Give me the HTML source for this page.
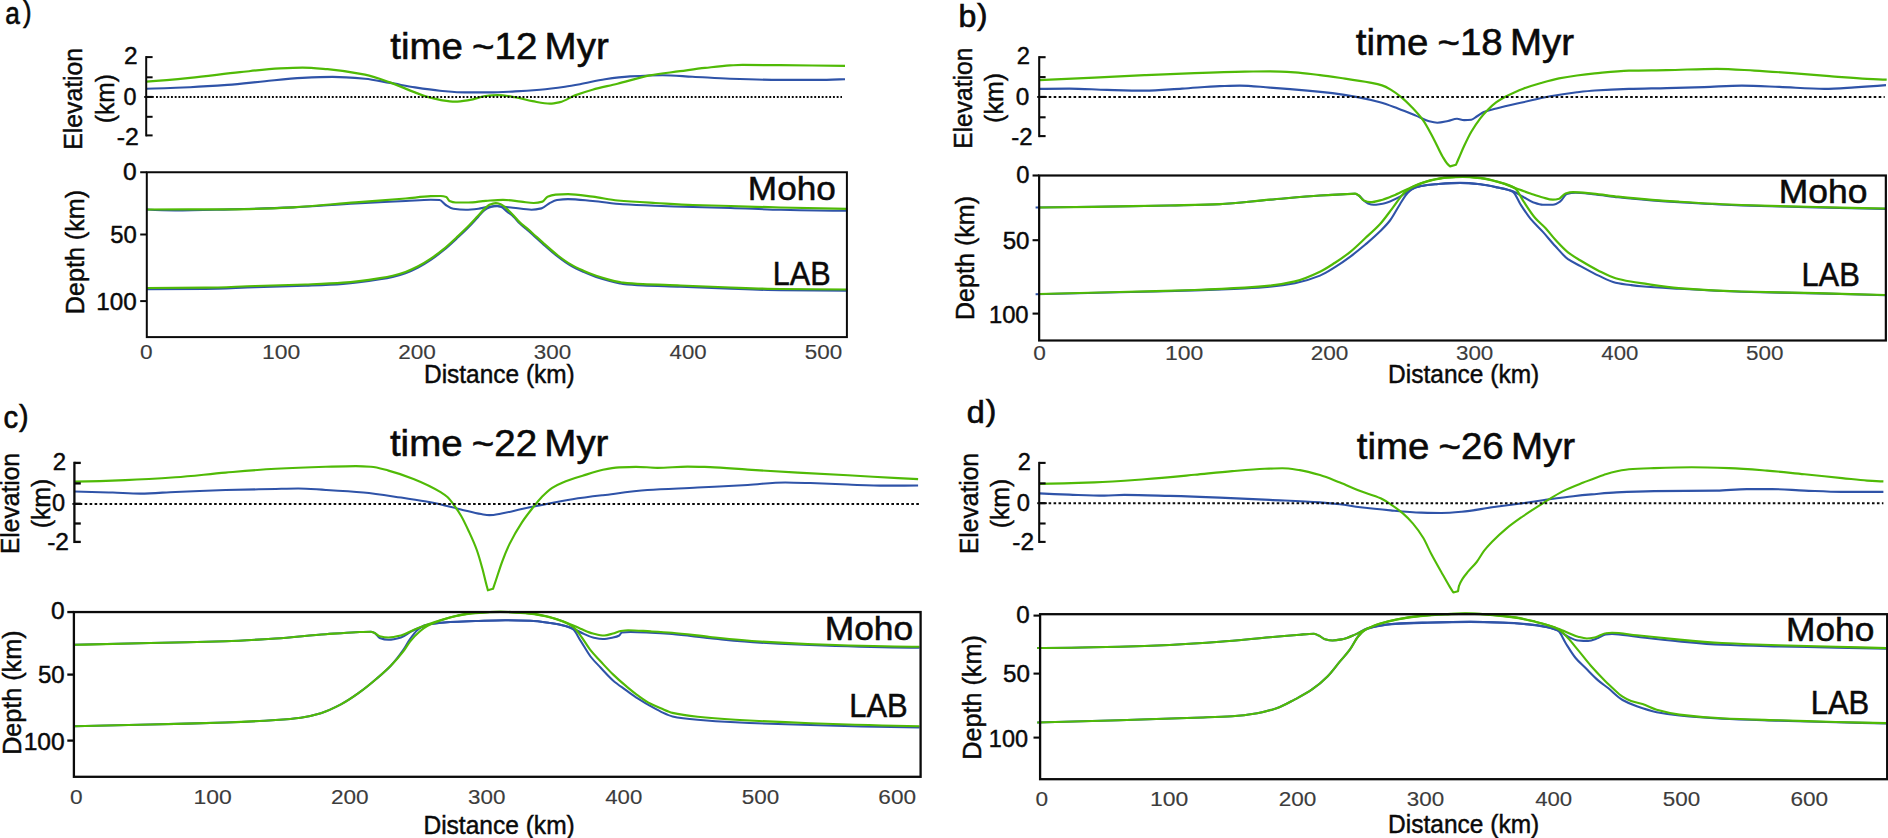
<!DOCTYPE html>
<html><head><meta charset="utf-8"><title>Rift evolution profiles</title>
<style>
html,body{margin:0;padding:0;background:#fff;}
svg{display:block;font-family:"Liberation Sans",sans-serif;}
path{fill:none;stroke-linejoin:round;}
</style></head><body>
<svg width="1888" height="838" viewBox="0 0 1888 838">
<rect width="1888" height="838" fill="#fff"/>
<g id="panel-a">
<path d="M146.3 88.7C160.9 88.4 175.4 87.8 190.0 87.2C202.5 86.6 215.0 85.8 227.5 84.9C240.0 84.0 252.5 82.4 265.0 81.2C277.5 80.0 290.0 78.5 302.5 77.9C312.5 77.4 322.5 76.9 332.5 76.9C343.3 76.9 354.2 77.8 365.0 78.7C373.3 79.4 381.7 81.5 390.0 82.9C398.3 84.3 406.7 86.1 415.0 87.4C423.3 88.7 431.7 90.0 440.0 90.7C448.3 91.4 456.7 92.4 465.0 92.4C473.3 92.4 481.7 92.4 490.0 92.4C498.3 92.4 506.7 91.8 515.0 91.4C523.3 91.0 531.7 90.4 540.0 89.7C548.3 89.0 556.7 87.9 565.0 86.7C570.0 86.0 575.0 85.1 580.0 84.2C588.3 82.7 596.7 80.4 605.0 79.2C613.3 78.0 621.7 76.9 630.0 76.4C640.8 75.8 651.7 75.2 662.5 75.2C672.5 75.2 682.5 76.2 692.5 76.7C705.0 77.3 717.5 78.3 730.0 78.7C746.7 79.3 763.3 79.9 780.0 79.9C792.5 79.9 805.0 79.9 817.5 79.9C826.7 79.9 835.8 79.5 845.0 79.2" stroke="#2f53a8" stroke-width="2.10"/>
<path d="M146.8 209.5C156.2 210.0 165.6 210.4 175.0 210.4C193.3 210.4 211.7 209.8 230.0 209.4C251.0 208.9 272.0 208.3 293.0 207.4C313.9 206.5 334.7 204.5 355.6 203.4C372.3 202.5 389.0 201.8 405.7 201.0C414.1 200.6 422.4 199.7 430.8 199.7C433.7 199.7 436.6 199.8 439.5 200.0C441.6 200.1 443.7 203.7 445.8 205.0C448.3 206.6 450.8 208.4 453.3 208.8C457.5 209.4 461.6 209.8 465.8 209.8C470.0 209.8 474.2 209.3 478.4 208.8C481.7 208.4 485.1 207.1 488.4 206.8C491.3 206.5 494.1 206.3 497.0 206.3C502.3 206.3 507.7 207.2 513.0 207.7C519.2 208.3 525.3 209.7 531.5 209.7C534.8 209.7 538.2 209.1 541.5 208.4C544.2 207.8 546.8 204.6 549.5 203.2C552.0 201.9 554.5 200.4 557.0 200.0C560.7 199.5 564.3 199.1 568.0 199.1C576.3 199.1 584.5 200.3 592.8 201.0C602.8 201.9 612.9 203.6 622.9 204.3C633.7 205.0 644.6 205.4 655.4 205.8C667.9 206.3 680.5 206.6 693.0 207.0C705.5 207.4 718.1 207.6 730.6 208.0C747.3 208.5 764.1 209.4 780.8 209.8C803.0 210.3 825.2 210.7 847.4 210.8" stroke="#2f53a8" stroke-width="2.10"/>
<path d="M146.8 289.2C166.2 289.2 185.6 289.1 205.0 288.9C221.8 288.7 238.5 287.7 255.3 287.2C272.0 286.7 288.7 286.3 305.4 285.7C317.9 285.2 330.5 284.8 343.0 283.9C355.3 283.0 367.7 281.2 380.0 279.3C384.2 278.7 388.5 278.0 392.7 277.0C396.9 276.0 401.2 274.7 405.4 273.2C409.6 271.7 413.9 269.7 418.1 267.5C422.3 265.3 426.6 262.6 430.8 259.8C435.1 257.0 439.3 253.8 443.6 250.3C447.8 246.9 452.1 242.8 456.3 238.9C460.5 235.0 464.8 231.1 469.0 226.8C472.0 223.8 474.9 220.5 477.9 217.3C480.0 215.0 482.1 211.9 484.2 210.3C485.9 209.0 487.6 208.0 489.3 207.4C491.4 206.6 493.6 205.8 495.7 205.8C497.4 205.8 499.1 206.3 500.8 206.8C502.9 207.4 505.0 210.1 507.1 211.7C509.2 213.3 511.4 214.7 513.5 216.6C515.6 218.5 517.7 221.6 519.8 223.6C521.9 225.6 524.1 227.1 526.2 228.9C528.3 230.7 530.4 232.5 532.5 234.4C536.7 238.2 541.0 242.2 545.2 245.9C549.4 249.6 553.7 253.5 557.9 256.7C562.2 260.0 566.4 263.1 570.7 265.6C574.9 268.1 579.2 270.0 583.4 271.9C587.6 273.8 591.9 275.5 596.1 277.0C600.3 278.5 604.6 279.7 608.8 280.8C612.5 281.8 616.3 282.7 620.0 283.4C621.0 283.6 621.9 283.8 622.9 283.9C629.6 284.7 636.2 285.1 642.9 285.4C655.4 286.0 668.0 286.2 680.5 286.7C697.2 287.3 713.9 288.1 730.6 288.7C747.3 289.3 764.1 290.0 780.8 290.2C803.0 290.5 825.2 290.7 847.4 290.7" stroke="#2f53a8" stroke-width="2.10"/>
<path d="M146.3 81.7C160.9 80.6 175.4 79.3 190.0 77.9C206.7 76.3 223.3 73.9 240.0 72.2C253.3 70.8 266.7 69.1 280.0 68.4C287.5 68.0 295.0 67.6 302.5 67.6C310.8 67.6 319.2 68.5 327.5 69.2C340.0 70.3 352.5 72.2 365.0 74.7C373.3 76.4 381.7 79.5 390.0 82.4C398.3 85.3 406.7 89.3 415.0 92.4C419.2 94.0 423.3 95.7 427.5 96.9C431.7 98.1 435.8 99.2 440.0 99.9C445.0 100.7 450.0 101.7 455.0 101.7C460.0 101.7 465.0 100.7 470.0 99.9C475.0 99.1 480.0 96.8 485.0 96.2C489.2 95.7 493.3 95.2 497.5 95.2C503.3 95.2 509.2 96.3 515.0 97.2C520.8 98.1 526.7 100.2 532.5 101.2C538.3 102.2 544.2 103.7 550.0 103.7C553.3 103.7 556.7 102.9 560.0 102.2C565.0 101.1 570.0 97.3 575.0 95.4C580.8 93.2 586.7 91.3 592.5 89.7C600.8 87.4 609.2 85.8 617.5 83.7C628.3 81.0 639.2 77.4 650.0 75.4C660.0 73.6 670.0 72.6 680.0 71.2C688.3 70.1 696.7 68.8 705.0 67.9C713.3 67.0 721.7 65.9 730.0 65.4C734.2 65.2 738.3 64.9 742.5 64.9C755.0 64.9 767.5 65.1 780.0 65.2C801.7 65.4 823.3 65.6 845.0 65.9" stroke="#50ba06" stroke-width="2.20"/>
<path d="M146.8 209.5C174.6 209.5 202.5 209.4 230.3 209.3C251.2 209.2 272.0 208.3 292.9 207.3C313.8 206.3 334.7 203.9 355.6 202.3C372.3 201.0 389.0 199.9 405.7 198.5C414.1 197.8 422.4 196.5 430.8 196.2C434.1 196.1 437.5 196.0 440.8 196.0C442.6 196.0 444.5 196.4 446.3 197.0C447.4 197.4 448.4 200.5 449.5 201.0C451.6 201.9 453.7 202.5 455.8 202.5C460.0 202.5 464.1 202.5 468.3 202.5C474.2 202.5 480.0 201.2 485.9 200.8C491.6 200.4 497.3 199.8 503.0 199.8C509.0 199.8 515.0 201.0 521.0 201.6C525.2 202.0 529.5 203.0 533.7 203.0C536.6 203.0 539.6 202.5 542.5 201.6C544.2 201.1 545.8 197.4 547.5 196.7C550.2 195.5 552.9 194.8 555.6 194.6C559.7 194.3 563.9 194.2 568.0 194.2C576.3 194.2 584.5 195.7 592.8 196.7C601.1 197.7 609.5 199.7 617.8 200.5C630.3 201.7 642.9 202.3 655.4 203.0C667.9 203.7 680.5 204.6 693.0 205.0C705.5 205.4 718.1 205.6 730.6 206.0C747.3 206.5 764.1 207.1 780.8 207.5C803.0 208.0 825.2 208.5 847.4 208.8" stroke="#50ba06" stroke-width="2.20"/>
<path d="M146.8 288.0C166.2 288.0 185.6 287.9 205.0 287.7C221.8 287.5 238.5 286.5 255.3 286.0C272.0 285.5 288.7 285.1 305.4 284.5C317.9 284.0 330.5 283.6 343.0 282.7C355.3 281.8 367.7 280.0 380.0 278.1C384.2 277.5 388.5 276.8 392.7 275.8C396.9 274.8 401.2 273.5 405.4 272.0C409.6 270.5 413.9 268.5 418.1 266.3C422.3 264.1 426.6 261.4 430.8 258.6C435.1 255.8 439.3 252.6 443.6 249.1C447.8 245.7 452.1 241.6 456.3 237.7C460.5 233.8 464.8 229.9 469.0 225.6C472.0 222.6 474.9 219.3 477.9 216.1C480.0 213.8 482.1 211.1 484.2 209.1C485.9 207.5 487.6 205.5 489.3 204.8C491.4 204.0 493.6 203.2 495.7 203.2C497.4 203.2 499.1 203.7 500.8 204.2C502.9 204.8 505.0 207.3 507.1 209.1C509.2 211.0 511.4 213.2 513.5 215.4C515.6 217.6 517.7 220.4 519.8 222.4C521.9 224.4 524.1 225.9 526.2 227.7C528.3 229.5 530.4 231.3 532.5 233.2C536.7 237.0 541.0 241.0 545.2 244.7C549.4 248.4 553.7 252.3 557.9 255.5C562.2 258.8 566.4 261.9 570.7 264.4C574.9 266.9 579.2 268.8 583.4 270.7C587.6 272.6 591.9 274.3 596.1 275.8C600.3 277.3 604.6 278.5 608.8 279.6C612.5 280.6 616.3 281.5 620.0 282.2C621.0 282.4 621.9 282.6 622.9 282.7C629.6 283.5 636.2 283.9 642.9 284.2C655.4 284.8 668.0 285.0 680.5 285.5C697.2 286.1 713.9 286.9 730.6 287.5C747.3 288.1 764.1 288.8 780.8 289.0C803.0 289.3 825.2 289.5 847.4 289.5" stroke="#50ba06" stroke-width="2.20"/>
<path d="M146.20 56.10L146.20 136.40" stroke="#0a0a0a" stroke-width="2.00" />
<path d="M146.20 57.10L152.60 57.10" stroke="#0a0a0a" stroke-width="2.00" />
<path d="M146.20 77.30L152.60 77.30" stroke="#0a0a0a" stroke-width="2.00" />
<path d="M146.20 96.90L152.60 96.90" stroke="#0a0a0a" stroke-width="2.00" />
<path d="M146.20 116.80L152.60 116.80" stroke="#0a0a0a" stroke-width="2.00" />
<path d="M146.20 135.40L152.60 135.40" stroke="#0a0a0a" stroke-width="2.00" />
<path d="M144.20 96.95L153.80 96.95" stroke="#0a0a0a" stroke-width="1.90" />
<path d="M156.00 96.95L842.00 96.95" stroke="#0a0a0a" stroke-width="1.95" stroke-dasharray="1.90 1.84"/>
<rect x="146.80" y="172.25" width="700.10" height="164.85" fill="none" stroke="#0a0a0a" stroke-width="2.00"/>
<path d="M140.20 172.25L146.80 172.25" stroke="#0a0a0a" stroke-width="2.00" />
<path d="M140.20 234.50L146.80 234.50" stroke="#0a0a0a" stroke-width="2.00" />
<path d="M140.20 301.10L146.80 301.10" stroke="#0a0a0a" stroke-width="2.00" />
<text font-size="30.93" fill="#0a0a0a" stroke="#0a0a0a" stroke-width="0.65" transform="matrix(0.8466 0 0 1 0 23.68)"><tspan x="6.17">a</tspan><tspan x="27.10" dy="-2.10" font-size="30.30">)</tspan></text>
<text font-size="36.99" fill="#0a0a0a" stroke="#0a0a0a" stroke-width="0.55" transform="matrix(1.0409 0 0 1 0 58.62)"><tspan x="374.89">time </tspan><tspan x="453.53">~12 </tspan><tspan x="523.21">Myr</tspan></text>
<text font-size="24.08" fill="#0a0a0a" stroke="#0a0a0a" stroke-width="0.45" transform="matrix(1.0154 0 0 1 124.10 64.08)">2</text>
<text font-size="24.08" fill="#0a0a0a" stroke="#0a0a0a" stroke-width="0.45" transform="matrix(0.9686 0 0 1 123.62 105.38)">0</text>
<text font-size="24.08" fill="#0a0a0a" stroke="#0a0a0a" stroke-width="0.45" transform="matrix(1.0316 0 0 1 116.83 144.68)">-2</text>
<text font-size="25.80" fill="#0a0a0a" stroke="#0a0a0a" stroke-width="0.45" transform="matrix(0 -0.9590 1 0 81.83 149.70)">Elevation</text>
<text font-size="25.80" fill="#0a0a0a" stroke="#0a0a0a" stroke-width="0.45" transform="matrix(0 -0.9499 1 0 113.58 123.19)">(km)</text>
<text font-size="24.08" fill="#0a0a0a" stroke="#0a0a0a" stroke-width="0.45" transform="matrix(1.0207 0 0 1 123.07 179.88)">0</text>
<text font-size="24.08" fill="#0a0a0a" stroke="#0a0a0a" stroke-width="0.45" transform="matrix(0.9909 0 0 1 110.17 243.38)">50</text>
<text font-size="24.08" fill="#0a0a0a" stroke="#0a0a0a" stroke-width="0.45" transform="matrix(1.0067 0 0 1 96.28 310.17)">100</text>
<text font-size="25.80" fill="#0a0a0a" stroke="#0a0a0a" stroke-width="0.45" transform="matrix(0 -0.9757 1 0 83.78 314.24)">Depth (km)</text>
<text font-size="33.28" fill="#0a0a0a" stroke="#0a0a0a" stroke-width="0.50" transform="matrix(1.0579 0 0 1 747.86 200.35)">Moho</text>
<text font-size="33.28" fill="#0a0a0a" stroke="#0a0a0a" stroke-width="0.50" transform="matrix(0.9193 0 0 1 772.74 284.75)">LAB</text>
<text font-size="21.12" fill="#3c3c3c" stroke="#3c3c3c" stroke-width="0.15" transform="matrix(1.0750 0 0 1 139.89 358.62)">0</text>
<text font-size="21.12" fill="#3c3c3c" stroke="#3c3c3c" stroke-width="0.15" transform="matrix(1.0871 0 0 1 262.07 358.62)">100</text>
<text font-size="21.12" fill="#3c3c3c" stroke="#3c3c3c" stroke-width="0.15" transform="matrix(1.0692 0 0 1 398.13 358.62)">200</text>
<text font-size="21.12" fill="#3c3c3c" stroke="#3c3c3c" stroke-width="0.15" transform="matrix(1.0612 0 0 1 533.84 358.62)">300</text>
<text font-size="21.12" fill="#3c3c3c" stroke="#3c3c3c" stroke-width="0.15" transform="matrix(1.0513 0 0 1 669.62 358.62)">400</text>
<text font-size="21.12" fill="#3c3c3c" stroke="#3c3c3c" stroke-width="0.15" transform="matrix(1.0625 0 0 1 804.68 358.62)">500</text>
<text font-size="25.22" fill="#0a0a0a" stroke="#0a0a0a" stroke-width="0.45" transform="matrix(0.9693 0 0 1 424.02 382.77)">Distance (km)</text>
</g>
<g id="panel-b">
<path d="M1039.2 88.9C1049.2 88.6 1059.3 88.6 1069.3 88.6C1081.8 88.6 1094.4 89.6 1106.9 89.9C1119.4 90.2 1132.0 90.6 1144.5 90.6C1157.0 90.6 1169.6 89.3 1182.1 88.6C1194.6 87.9 1207.2 86.5 1219.7 86.1C1226.4 85.9 1233.0 85.6 1239.7 85.6C1249.7 85.6 1259.8 86.9 1269.8 87.6C1282.3 88.5 1294.9 89.5 1307.4 90.6C1315.8 91.3 1324.1 92.1 1332.5 93.1C1340.8 94.1 1349.2 95.5 1357.5 97.1C1365.0 98.5 1372.5 100.1 1380.0 102.2C1386.0 103.8 1391.9 106.2 1397.9 108.4C1403.9 110.6 1409.8 113.1 1415.8 115.6C1420.0 117.3 1424.1 119.9 1428.3 121.0C1431.3 121.8 1434.3 122.7 1437.3 122.7C1440.9 122.7 1444.4 121.7 1448.0 121.0C1451.0 120.4 1454.0 118.8 1457.0 118.8C1459.4 118.8 1461.7 120.1 1464.1 120.1C1466.5 120.1 1468.9 120.0 1471.3 119.7C1473.1 119.5 1474.9 117.6 1476.7 116.5C1479.1 115.1 1481.4 113.0 1483.8 112.0C1488.0 110.3 1492.2 109.5 1496.4 108.4C1505.3 106.1 1514.3 104.2 1523.2 102.2C1532.2 100.2 1541.1 97.9 1550.1 96.3C1559.0 94.7 1568.0 93.4 1576.9 92.3C1582.9 91.6 1588.8 90.9 1594.8 90.5C1606.2 89.7 1617.6 89.2 1629.0 88.9C1641.5 88.5 1654.1 88.4 1666.6 88.1C1679.1 87.8 1691.7 87.5 1704.2 87.1C1716.7 86.7 1729.3 85.6 1741.8 85.6C1754.3 85.6 1766.9 86.4 1779.4 86.9C1794.4 87.5 1809.5 88.9 1824.5 88.9C1834.5 88.9 1844.6 88.0 1854.6 87.4C1865.1 86.8 1875.5 86.0 1886.0 85.1" stroke="#2f53a8" stroke-width="2.10"/>
<path d="M1035.6 207.5C1055.2 207.3 1074.8 207.1 1094.4 206.8C1119.5 206.4 1144.5 206.0 1169.6 205.5C1186.3 205.1 1203.0 204.9 1219.7 204.2C1236.4 203.5 1253.1 201.1 1269.8 199.7C1286.5 198.3 1303.3 196.5 1320.0 195.5C1328.3 195.0 1336.7 194.6 1345.0 194.2C1348.3 194.0 1351.7 193.7 1355.0 193.7C1356.3 193.7 1357.5 194.7 1358.8 195.5C1360.5 196.6 1362.1 199.1 1363.8 200.5C1365.2 201.6 1366.6 202.9 1368.0 203.4C1369.8 204.1 1371.7 204.7 1373.5 204.7C1376.0 204.7 1378.5 204.3 1381.0 204.0C1384.0 203.6 1387.0 202.5 1390.0 201.4C1393.3 200.2 1396.7 198.5 1400.0 196.7C1403.3 194.9 1406.7 191.6 1410.0 190.0C1413.3 188.4 1416.7 186.9 1420.0 186.2C1425.0 185.2 1430.1 184.6 1435.1 184.2C1443.5 183.6 1451.8 182.9 1460.2 182.9C1466.9 182.9 1473.6 183.5 1480.3 184.2C1486.1 184.8 1492.0 186.2 1497.8 187.5C1502.8 188.6 1507.8 189.5 1512.8 191.2C1516.2 192.4 1519.5 194.9 1522.9 196.7C1526.2 198.5 1529.6 201.1 1532.9 202.2C1536.2 203.3 1539.6 204.7 1542.9 204.7C1546.2 204.7 1549.6 204.7 1552.9 204.7C1555.4 204.7 1558.0 202.9 1560.5 201.2C1562.6 199.8 1564.6 194.6 1566.7 194.0C1569.6 193.2 1572.6 192.7 1575.5 192.7C1581.3 192.7 1587.2 193.6 1593.0 194.2C1601.4 195.0 1609.7 196.3 1618.1 197.2C1629.4 198.4 1640.7 199.5 1652.0 200.4C1660.9 201.1 1669.8 201.7 1678.7 202.2C1699.6 203.4 1720.4 204.7 1741.3 205.4C1766.4 206.3 1791.4 206.8 1816.5 207.4C1839.5 207.9 1862.4 208.5 1885.4 208.9" stroke="#2f53a8" stroke-width="2.10"/>
<path d="M1035.6 294.2C1063.5 293.6 1091.5 293.0 1119.4 292.3C1144.5 291.7 1169.5 291.2 1194.6 290.4C1211.3 289.9 1228.1 289.3 1244.8 288.4C1253.1 288.0 1261.5 287.5 1269.8 286.7C1278.2 285.9 1286.5 284.8 1294.9 283.2C1303.3 281.6 1311.6 279.0 1320.0 275.6C1325.0 273.6 1330.0 270.3 1335.0 267.2C1340.0 264.1 1345.0 260.6 1350.0 256.9C1355.0 253.1 1360.1 249.0 1365.1 244.8C1370.1 240.5 1375.1 236.3 1380.1 231.3C1383.4 228.0 1386.7 224.8 1390.0 220.5C1393.3 216.1 1396.7 209.3 1400.0 204.2C1402.5 200.3 1405.1 195.5 1407.6 193.0C1410.1 190.6 1412.6 188.4 1415.1 187.5C1416.7 186.9 1418.4 186.6 1420.0 186.3C1425.0 185.4 1430.1 184.7 1435.1 184.3C1443.5 183.7 1451.8 183.0 1460.2 183.0C1466.9 183.0 1473.6 183.6 1480.3 184.3C1486.1 184.9 1492.0 186.3 1497.8 187.6C1502.8 188.7 1507.8 189.2 1512.8 191.7C1515.3 193.0 1517.9 200.2 1520.4 204.2C1523.7 209.3 1527.1 214.6 1530.4 218.7C1534.6 223.8 1538.7 227.3 1542.9 231.9C1547.1 236.5 1551.2 241.8 1555.4 246.3C1559.6 250.9 1563.8 256.1 1568.0 259.2C1572.2 262.1 1576.3 263.8 1580.5 266.1C1586.3 269.2 1592.2 272.7 1598.0 275.4C1603.9 278.1 1609.7 281.4 1615.6 282.7C1620.6 283.8 1625.6 284.4 1630.6 285.0C1634.1 285.5 1637.5 286.0 1641.0 286.3C1653.6 287.4 1666.1 288.0 1678.7 288.7C1699.6 289.9 1720.4 291.1 1741.3 291.7C1766.4 292.5 1791.4 292.8 1816.5 293.4C1839.5 294.0 1862.4 294.6 1885.4 295.2" stroke="#2f53a8" stroke-width="2.10"/>
<path d="M1039.2 80.1C1057.6 79.3 1076.0 78.5 1094.4 77.6C1111.1 76.8 1127.8 75.8 1144.5 75.1C1161.2 74.4 1177.9 73.7 1194.6 73.1C1211.3 72.5 1228.1 71.9 1244.8 71.6C1253.1 71.5 1261.5 71.3 1269.8 71.3C1278.2 71.3 1286.5 71.8 1294.9 72.3C1303.3 72.8 1311.6 74.1 1320.0 75.1C1328.3 76.1 1336.7 77.4 1345.0 78.6C1353.4 79.8 1361.7 81.0 1370.1 82.6C1374.1 83.4 1378.0 84.1 1382.0 85.4C1384.9 86.3 1387.8 87.9 1390.7 89.6C1394.3 91.7 1397.9 94.4 1401.5 97.3C1405.1 100.2 1408.6 103.8 1412.2 107.5C1415.8 111.3 1419.4 115.1 1423.0 120.1C1426.6 125.1 1430.1 132.2 1433.7 138.9C1436.7 144.5 1439.7 151.7 1442.7 156.8C1444.2 159.3 1445.6 161.8 1447.1 163.5C1448.1 164.7 1449.1 165.7 1450.1 166.4L1456.0 164.7C1456.9 162.5 1457.9 160.4 1458.8 158.2C1460.6 154.1 1462.3 149.8 1464.1 146.0C1466.5 140.9 1468.9 135.8 1471.3 131.7C1474.3 126.6 1477.3 122.2 1480.3 118.3C1482.7 115.3 1485.0 112.6 1487.4 110.2C1490.4 107.2 1493.4 104.4 1496.4 102.2C1499.4 100.1 1502.3 98.4 1505.3 96.8C1511.3 93.7 1517.2 90.9 1523.2 88.7C1529.2 86.5 1535.1 84.7 1541.1 83.0C1547.1 81.3 1553.0 79.6 1559.0 78.4C1565.0 77.2 1570.9 76.3 1576.9 75.5C1582.9 74.7 1588.8 74.0 1594.8 73.4C1606.2 72.3 1617.6 70.9 1629.0 70.6C1641.5 70.3 1654.1 70.3 1666.6 70.1C1683.3 69.8 1700.1 68.8 1716.8 68.8C1729.3 68.8 1741.8 69.9 1754.3 70.6C1766.8 71.3 1779.4 72.2 1791.9 73.1C1804.4 74.0 1817.0 75.2 1829.5 76.1C1842.0 77.0 1854.6 78.2 1867.1 78.8C1873.6 79.1 1880.2 79.4 1886.7 79.6" stroke="#50ba06" stroke-width="2.20"/>
<path d="M1039.2 207.5C1057.6 207.3 1076.0 207.1 1094.4 206.8C1119.5 206.4 1144.5 206.0 1169.6 205.5C1186.3 205.1 1203.0 204.9 1219.7 204.2C1236.4 203.5 1253.1 201.1 1269.8 199.7C1286.5 198.3 1303.3 196.5 1320.0 195.5C1328.3 195.0 1336.7 194.6 1345.0 194.2C1348.3 194.0 1351.7 193.7 1355.0 193.7C1356.3 193.7 1357.5 194.7 1358.8 195.5C1360.5 196.6 1362.1 199.8 1363.8 200.5C1365.9 201.4 1368.0 202.2 1370.1 202.2C1374.3 202.2 1378.4 200.8 1382.6 199.7C1386.8 198.6 1390.9 196.6 1395.1 194.9C1400.9 192.5 1406.8 189.1 1412.6 186.7C1418.4 184.3 1424.3 181.8 1430.1 180.4C1436.0 179.0 1441.8 177.8 1447.7 177.4C1452.7 177.0 1457.7 176.7 1462.7 176.7C1468.6 176.7 1474.4 177.3 1480.3 177.9C1486.1 178.5 1492.0 180.1 1497.8 181.7C1503.6 183.3 1509.5 185.9 1515.3 188.0C1520.3 189.8 1525.4 191.8 1530.4 193.5C1534.6 194.9 1538.7 196.4 1542.9 197.5C1546.2 198.4 1549.6 199.7 1552.9 199.7C1555.0 199.7 1557.1 199.3 1559.2 198.7C1561.3 198.1 1563.4 194.1 1565.5 193.5C1568.0 192.8 1570.5 192.2 1573.0 192.2C1579.7 192.2 1586.3 193.1 1593.0 193.7C1601.4 194.5 1609.7 195.8 1618.1 196.7C1629.4 197.9 1640.7 199.0 1652.0 199.9C1660.9 200.6 1669.8 201.2 1678.7 201.7C1699.6 203.0 1720.4 204.3 1741.3 205.0C1766.4 205.9 1791.4 206.4 1816.5 207.0C1839.5 207.5 1862.4 208.1 1885.4 208.5" stroke="#50ba06" stroke-width="2.20"/>
<path d="M1039.2 294.0C1065.9 293.4 1092.7 292.7 1119.4 292.0C1144.5 291.4 1169.5 290.9 1194.6 290.0C1211.3 289.4 1228.1 288.7 1244.8 287.7C1253.1 287.2 1261.5 286.6 1269.8 285.7C1278.2 284.8 1286.5 283.4 1294.9 281.4C1303.3 279.4 1311.6 275.7 1320.0 271.7C1325.0 269.4 1330.0 266.0 1335.0 262.8C1340.0 259.5 1345.0 256.1 1350.0 252.1C1355.0 248.0 1360.1 243.0 1365.1 238.3C1370.1 233.6 1375.1 229.5 1380.1 224.0C1384.2 219.5 1388.4 213.4 1392.5 208.1C1396.7 202.7 1400.9 195.6 1405.1 192.0C1407.6 189.8 1410.1 188.1 1412.6 186.9C1418.4 184.0 1424.3 182.0 1430.1 180.6C1436.0 179.2 1441.8 178.0 1447.7 177.6C1452.7 177.2 1457.7 176.9 1462.7 176.9C1468.6 176.9 1474.4 177.5 1480.3 178.1C1486.1 178.7 1492.0 180.3 1497.8 181.9C1503.6 183.5 1509.5 184.6 1515.3 188.5C1517.8 190.2 1520.4 196.6 1522.9 200.4C1527.1 206.7 1531.2 213.5 1535.4 218.3C1538.7 222.1 1542.1 224.5 1545.4 228.0C1548.7 231.6 1552.1 236.2 1555.4 239.8C1559.6 244.3 1563.8 249.0 1568.0 252.3C1572.2 255.6 1576.3 257.9 1580.5 260.5C1586.3 264.0 1592.2 267.5 1598.0 270.4C1603.9 273.3 1609.7 276.5 1615.6 278.2C1620.6 279.7 1625.6 280.6 1630.6 281.5C1634.1 282.2 1637.5 282.7 1641.0 283.2C1653.6 285.0 1666.1 287.2 1678.7 288.2C1699.6 289.8 1720.4 290.8 1741.3 291.5C1766.4 292.3 1791.4 292.6 1816.5 293.2C1839.5 293.8 1862.4 294.4 1885.4 295.0" stroke="#50ba06" stroke-width="2.20"/>
<path d="M1039.20 56.15L1039.20 137.15" stroke="#0a0a0a" stroke-width="2.10" />
<path d="M1039.20 57.20L1045.60 57.20" stroke="#0a0a0a" stroke-width="2.10" />
<path d="M1039.20 77.10L1045.60 77.10" stroke="#0a0a0a" stroke-width="2.10" />
<path d="M1039.20 96.90L1045.60 96.90" stroke="#0a0a0a" stroke-width="2.10" />
<path d="M1039.20 117.30L1045.60 117.30" stroke="#0a0a0a" stroke-width="2.10" />
<path d="M1039.20 136.10L1045.60 136.10" stroke="#0a0a0a" stroke-width="2.10" />
<path d="M1037.20 96.95L1046.80 96.95" stroke="#0a0a0a" stroke-width="1.90" />
<path d="M1048.70 96.95L1884.70 96.95" stroke="#0a0a0a" stroke-width="1.95" stroke-dasharray="2.60 2.37"/>
<rect x="1039.15" y="175.50" width="846.70" height="165.00" fill="none" stroke="#0a0a0a" stroke-width="2.20"/>
<path d="M1032.55 175.50L1039.15 175.50" stroke="#0a0a0a" stroke-width="2.10" />
<path d="M1032.55 240.20L1039.15 240.20" stroke="#0a0a0a" stroke-width="2.10" />
<path d="M1032.55 313.60L1039.15 313.60" stroke="#0a0a0a" stroke-width="2.10" />
<text font-size="30.93" fill="#0a0a0a" stroke="#0a0a0a" stroke-width="0.65" transform="matrix(1.0369 0 0 1 0 26.88)"><tspan x="924.33">b</tspan><tspan x="942.30" dy="-2.10" font-size="30.30">)</tspan></text>
<text font-size="36.99" fill="#0a0a0a" stroke="#0a0a0a" stroke-width="0.55" transform="matrix(1.0395 0 0 1 0 55.33)"><tspan x="1304.21">time </tspan><tspan x="1382.82">~18 </tspan><tspan x="1452.72">Myr</tspan></text>
<text font-size="24.08" fill="#0a0a0a" stroke="#0a0a0a" stroke-width="0.45" transform="matrix(0.9880 0 0 1 1016.74 64.18)">2</text>
<text font-size="24.08" fill="#0a0a0a" stroke="#0a0a0a" stroke-width="0.45" transform="matrix(1.0121 0 0 1 1015.87 105.38)">0</text>
<text font-size="24.08" fill="#0a0a0a" stroke="#0a0a0a" stroke-width="0.45" transform="matrix(0.9950 0 0 1 1011.37 144.68)">-2</text>
<text font-size="25.80" fill="#0a0a0a" stroke="#0a0a0a" stroke-width="0.45" transform="matrix(0 -0.9541 1 0 972.48 148.79)">Elevation</text>
<text font-size="25.80" fill="#0a0a0a" stroke="#0a0a0a" stroke-width="0.45" transform="matrix(0 -0.9685 1 0 1003.48 122.92)">(km)</text>
<text font-size="24.08" fill="#0a0a0a" stroke="#0a0a0a" stroke-width="0.45" transform="matrix(0.9860 0 0 1 1016.30 183.08)">0</text>
<text font-size="24.08" fill="#0a0a0a" stroke="#0a0a0a" stroke-width="0.45" transform="matrix(1.0029 0 0 1 1002.66 248.58)">50</text>
<text font-size="24.08" fill="#0a0a0a" stroke="#0a0a0a" stroke-width="0.45" transform="matrix(0.9880 0 0 1 988.92 322.67)">100</text>
<text font-size="25.80" fill="#0a0a0a" stroke="#0a0a0a" stroke-width="0.45" transform="matrix(0 -0.9733 1 0 973.98 320.03)">Depth (km)</text>
<text font-size="33.28" fill="#0a0a0a" stroke="#0a0a0a" stroke-width="0.50" transform="matrix(1.0655 0 0 1 1778.84 202.65)">Moho</text>
<text font-size="33.28" fill="#0a0a0a" stroke="#0a0a0a" stroke-width="0.50" transform="matrix(0.9296 0 0 1 1801.41 286.15)">LAB</text>
<text font-size="21.12" fill="#3c3c3c" stroke="#3c3c3c" stroke-width="0.15" transform="matrix(1.0750 0 0 1 1033.19 359.82)">0</text>
<text font-size="21.12" fill="#3c3c3c" stroke="#3c3c3c" stroke-width="0.15" transform="matrix(1.0871 0 0 1 1164.97 359.82)">100</text>
<text font-size="21.12" fill="#3c3c3c" stroke="#3c3c3c" stroke-width="0.15" transform="matrix(1.0692 0 0 1 1310.63 359.82)">200</text>
<text font-size="21.12" fill="#3c3c3c" stroke="#3c3c3c" stroke-width="0.15" transform="matrix(1.0612 0 0 1 1455.94 359.82)">300</text>
<text font-size="21.12" fill="#3c3c3c" stroke="#3c3c3c" stroke-width="0.15" transform="matrix(1.0513 0 0 1 1601.32 359.82)">400</text>
<text font-size="21.12" fill="#3c3c3c" stroke="#3c3c3c" stroke-width="0.15" transform="matrix(1.0625 0 0 1 1745.98 359.82)">500</text>
<text font-size="25.22" fill="#0a0a0a" stroke="#0a0a0a" stroke-width="0.45" transform="matrix(0.9719 0 0 1 1388.12 382.77)">Distance (km)</text>
</g>
<g id="panel-c">
<path d="M74.4 491.4C87.2 491.8 100.0 492.2 112.8 492.6C122.0 492.9 131.2 493.6 140.4 493.6C152.1 493.6 163.7 492.4 175.4 491.9C192.1 491.2 208.9 490.6 225.6 490.1C242.3 489.6 259.0 489.3 275.7 488.9C283.2 488.7 290.7 488.4 298.2 488.4C307.4 488.4 316.6 489.4 325.8 489.9C338.3 490.6 350.9 491.3 363.4 492.4C375.9 493.5 388.5 495.7 401.0 497.6C410.8 499.1 420.6 500.4 430.4 502.3C440.6 504.2 450.7 507.0 460.9 509.4C467.7 511.0 474.4 513.1 481.2 514.1C483.9 514.5 486.6 515.1 489.3 515.1C493.4 515.1 497.4 514.2 501.5 513.5C508.3 512.4 515.0 510.4 521.8 509.0C528.5 507.6 535.3 506.2 542.0 504.9C552.2 502.9 562.3 500.8 572.5 499.2C582.6 497.6 592.8 496.4 602.9 495.2C617.7 493.4 632.6 491.1 647.4 490.1C664.1 488.9 680.9 488.5 697.6 487.6C714.3 486.7 731.0 485.9 747.7 484.9C760.2 484.2 772.8 482.4 785.3 482.4C793.6 482.4 802.0 482.8 810.3 483.1C822.8 483.5 835.4 484.2 847.9 484.6C860.4 485.0 873.0 485.6 885.5 485.6C896.4 485.6 907.2 485.6 918.1 485.4" stroke="#2f53a8" stroke-width="2.05"/>
<path d="M74.2 644.8C99.6 644.2 125.0 643.6 150.4 643.0C175.5 642.4 200.5 642.1 225.6 641.3C242.3 640.7 259.0 639.6 275.7 638.5C292.4 637.4 309.1 635.4 325.8 634.2C335.8 633.5 345.9 632.6 355.9 632.2C360.9 632.0 365.9 631.7 370.9 631.7C372.2 631.7 373.4 632.4 374.7 633.0C376.4 633.8 378.0 637.4 379.7 638.0C382.6 639.1 385.6 639.8 388.5 639.8C392.7 639.8 396.8 638.7 401.0 637.5C404.3 636.6 407.7 633.4 411.0 631.7C414.0 630.1 417.1 628.6 420.1 627.5C424.3 626.0 428.4 624.3 432.6 623.7C438.4 622.8 444.3 622.3 450.1 622.0C458.5 621.5 466.8 621.3 475.2 621.0C485.2 620.7 495.3 620.2 505.3 620.2C513.6 620.2 522.0 620.4 530.3 620.7C537.0 620.9 543.7 622.0 550.4 623.0C555.4 623.7 560.4 624.7 565.4 626.0C567.9 626.6 570.4 627.5 572.9 628.5C576.3 629.8 579.6 632.0 583.0 633.5C586.3 635.0 589.7 636.8 593.0 637.5C596.3 638.2 599.7 639.0 603.0 639.0C606.3 639.0 609.7 638.2 613.0 637.5C615.1 637.1 617.2 636.7 619.3 635.5C620.1 635.0 621.0 632.6 621.8 632.5C624.7 632.1 627.7 632.0 630.6 632.0C637.3 632.0 643.9 632.4 650.6 632.7C657.7 633.0 664.9 633.5 672.0 634.1C684.7 635.2 697.4 637.0 710.1 638.3C726.8 639.9 743.6 641.8 760.3 642.7C785.3 644.2 810.4 645.2 835.4 645.9C863.4 646.7 891.4 647.4 919.4 647.7" stroke="#2f53a8" stroke-width="2.05"/>
<path d="M74.2 726.2C99.6 725.7 125.0 725.1 150.4 724.5C175.5 723.9 200.5 723.4 225.6 722.5C242.3 721.9 259.0 721.1 275.7 720.0C284.1 719.4 292.4 718.8 300.8 717.7C307.5 716.8 314.1 715.2 320.8 713.2C327.5 711.2 334.2 707.9 340.9 704.4C346.7 701.3 352.6 697.4 358.4 693.2C364.2 689.1 370.1 684.3 375.9 679.3C380.9 675.0 386.0 670.9 391.0 665.5C395.2 661.1 399.3 655.7 403.5 649.7C405.7 646.6 407.8 642.1 410.0 639.1C412.5 635.6 415.0 632.1 417.5 630.0C420.0 627.9 422.5 625.9 425.0 625.2C427.5 624.5 430.1 624.1 432.6 623.8C438.4 623.0 444.3 622.4 450.1 622.1C458.5 621.6 466.8 621.4 475.2 621.1C485.2 620.8 495.3 620.3 505.3 620.3C513.6 620.3 522.0 620.5 530.3 620.8C537.0 621.0 543.7 622.1 550.4 623.1C555.4 623.8 560.4 624.7 565.4 626.1C567.9 626.8 570.4 627.6 572.9 629.2C575.4 630.8 578.0 636.7 580.5 640.6C583.8 645.7 587.2 652.1 590.5 656.5C593.8 660.8 597.2 664.0 600.5 667.5C604.7 672.0 608.8 676.7 613.0 680.4C617.2 684.0 621.4 686.8 625.6 689.9C629.8 692.9 633.9 696.0 638.1 698.7C642.3 701.4 646.4 703.9 650.6 706.2C654.0 708.1 657.3 710.0 660.7 711.6C664.6 713.4 668.6 715.5 672.5 716.4C680.9 718.2 689.2 719.0 697.6 719.8C710.1 720.9 722.7 721.7 735.2 722.3C760.3 723.5 785.3 724.4 810.4 725.1C846.7 726.1 883.1 727.1 919.4 727.6" stroke="#2f53a8" stroke-width="2.05"/>
<path d="M74.4 481.6C91.4 481.3 108.3 480.8 125.3 480.1C142.0 479.5 158.7 478.5 175.4 477.3C192.1 476.1 208.9 474.0 225.6 472.6C242.3 471.2 259.0 469.7 275.7 468.8C292.4 467.9 309.1 467.3 325.8 466.8C335.8 466.5 345.9 466.1 355.9 466.1C360.9 466.1 365.9 466.4 370.9 466.8C376.8 467.2 382.6 469.1 388.5 470.6C396.8 472.8 405.2 475.6 413.5 478.9C422.5 482.5 431.6 486.6 440.6 492.1C443.0 493.6 445.3 495.1 447.7 497.3C449.7 499.2 451.8 502.1 453.8 504.9C456.2 508.1 458.5 511.5 460.9 515.5C463.6 520.1 466.3 525.9 469.0 531.7C471.6 537.3 474.2 542.8 476.8 550.0C478.6 555.0 480.4 561.4 482.2 568.0C483.6 573.0 484.9 579.0 486.3 584.3C486.8 586.3 487.4 588.3 487.9 590.3L493.0 588.8C494.0 585.9 495.0 583.0 496.0 580.0C498.0 574.0 500.1 567.2 502.1 561.8C504.6 555.1 507.1 549.0 509.6 543.9C513.7 535.6 517.7 528.8 521.8 522.6C525.8 516.5 529.9 511.5 533.9 506.4C536.6 503.0 539.3 499.6 542.0 496.8C545.4 493.3 548.8 490.0 552.2 487.8C555.6 485.6 558.9 484.1 562.3 482.7C569.1 479.9 575.8 477.9 582.6 475.8C589.4 473.6 596.1 471.1 602.9 469.8C608.3 468.7 613.8 467.7 619.2 467.4C624.8 467.1 630.4 466.8 636.0 466.8C643.2 466.8 650.3 467.8 657.5 467.8C667.5 467.8 677.5 466.6 687.5 466.6C695.0 466.6 702.6 466.9 710.1 467.1C722.6 467.5 735.2 468.8 747.7 469.6C764.4 470.7 781.1 471.7 797.8 472.6C814.5 473.5 831.2 474.4 847.9 475.3C864.6 476.2 881.4 477.2 898.1 478.1C904.8 478.4 911.4 478.8 918.1 479.1" stroke="#50ba06" stroke-width="2.15"/>
<path d="M74.2 644.8C99.6 644.2 125.0 643.6 150.4 643.0C175.5 642.4 200.5 642.1 225.6 641.3C242.3 640.7 259.0 639.6 275.7 638.5C292.4 637.4 309.1 635.4 325.8 634.2C335.8 633.5 345.9 632.6 355.9 632.2C360.9 632.0 365.9 631.7 370.9 631.7C372.2 631.7 373.4 632.4 374.7 633.0C376.4 633.7 378.0 635.9 379.7 636.3C382.6 637.0 385.6 637.5 388.5 637.5C392.7 637.5 396.8 636.5 401.0 635.5C405.2 634.5 409.3 631.7 413.5 630.0C417.7 628.2 421.9 626.5 426.1 625.0C431.1 623.2 436.1 621.5 441.1 620.0C446.6 618.3 452.1 616.6 457.6 615.5C463.5 614.4 469.3 613.3 475.2 612.9C483.6 612.3 491.9 611.7 500.3 611.7C508.6 611.7 517.0 612.3 525.3 612.9C532.0 613.4 538.7 614.6 545.4 616.0C551.2 617.2 557.1 619.2 562.9 621.2C568.8 623.3 574.6 626.3 580.5 628.7C584.7 630.4 588.8 632.5 593.0 633.5C596.8 634.4 600.5 635.5 604.3 635.5C607.2 635.5 610.1 634.3 613.0 633.5C615.5 632.8 618.1 631.4 620.6 631.0C623.1 630.6 625.6 630.2 628.1 630.2C635.6 630.2 643.1 631.0 650.6 631.4C657.7 631.8 664.9 632.2 672.0 632.7C684.7 633.7 697.4 635.7 710.1 637.0C726.8 638.7 743.6 640.5 760.3 641.5C785.3 643.1 810.4 644.3 835.4 645.0C863.4 645.8 891.4 646.6 919.4 646.8" stroke="#50ba06" stroke-width="2.15"/>
<path d="M74.2 726.2C99.6 725.7 125.0 725.1 150.4 724.5C175.5 723.9 200.5 723.4 225.6 722.5C242.3 721.9 259.0 721.1 275.7 720.0C284.1 719.4 292.4 718.8 300.8 717.7C307.5 716.8 314.1 715.2 320.8 713.2C327.5 711.2 334.2 707.9 340.9 704.4C346.7 701.3 352.6 697.4 358.4 693.2C364.2 689.1 370.1 684.3 375.9 679.3C380.9 675.0 386.0 670.6 391.0 665.5C395.2 661.2 399.3 656.6 403.5 651.1C405.7 648.3 407.8 644.2 410.0 641.6C413.3 637.5 416.7 634.1 420.0 631.3C422.5 629.1 425.1 627.1 427.6 625.8C432.1 623.3 436.6 621.7 441.1 620.2C446.6 618.4 452.1 616.8 457.6 615.7C463.5 614.6 469.3 613.5 475.2 613.1C483.6 612.5 491.9 611.9 500.3 611.9C508.6 611.9 517.0 612.5 525.3 613.1C532.0 613.6 538.7 614.8 545.4 616.2C551.2 617.4 557.1 619.1 562.9 621.4C566.2 622.7 569.6 624.2 572.9 626.7C575.4 628.6 578.0 632.3 580.5 635.6C583.8 639.9 587.2 646.0 590.5 650.2C593.8 654.4 597.2 657.7 600.5 661.3C604.7 665.8 608.8 670.4 613.0 674.4C617.2 678.5 621.4 682.2 625.6 685.7C629.8 689.2 633.9 692.7 638.1 695.6C642.3 698.6 646.4 701.6 650.6 703.8C654.0 705.6 657.3 706.9 660.7 708.3C664.6 709.9 668.6 712.0 672.5 712.9C680.9 714.8 689.2 715.8 697.6 716.7C710.1 718.0 722.7 718.9 735.2 719.7C760.3 721.2 785.3 722.3 810.4 723.2C846.7 724.5 883.1 725.6 919.4 726.2" stroke="#50ba06" stroke-width="2.15"/>
<path d="M74.40 461.75L74.40 543.05" stroke="#0a0a0a" stroke-width="2.30" />
<path d="M74.40 462.90L80.80 462.90" stroke="#0a0a0a" stroke-width="2.30" />
<path d="M74.40 483.40L80.80 483.40" stroke="#0a0a0a" stroke-width="2.30" />
<path d="M74.40 503.80L80.80 503.80" stroke="#0a0a0a" stroke-width="2.30" />
<path d="M74.40 523.50L80.80 523.50" stroke="#0a0a0a" stroke-width="2.30" />
<path d="M74.40 541.90L80.80 541.90" stroke="#0a0a0a" stroke-width="2.30" />
<path d="M72.40 503.90L82.00 503.90" stroke="#0a0a0a" stroke-width="1.90" />
<path d="M79.65 503.90L920.60 503.90" stroke="#0a0a0a" stroke-width="1.95" stroke-dasharray="2.60 2.38"/>
<rect x="73.90" y="612.05" width="846.70" height="164.75" fill="none" stroke="#0a0a0a" stroke-width="2.30"/>
<path d="M67.30 612.05L73.90 612.05" stroke="#0a0a0a" stroke-width="2.30" />
<path d="M67.30 674.60L73.90 674.60" stroke="#0a0a0a" stroke-width="2.30" />
<path d="M67.30 740.60L73.90 740.60" stroke="#0a0a0a" stroke-width="2.30" />
<text font-size="30.93" fill="#0a0a0a" stroke="#0a0a0a" stroke-width="0.65" transform="matrix(0.9463 0 0 1 0 427.78)"><tspan x="3.75">c</tspan><tspan x="20.16" dy="-2.10" font-size="30.30">)</tspan></text>
<text font-size="36.99" fill="#0a0a0a" stroke="#0a0a0a" stroke-width="0.55" transform="matrix(1.0409 0 0 1 0 455.53)"><tspan x="374.61">time </tspan><tspan x="453.24">~22 </tspan><tspan x="522.92">Myr</tspan></text>
<text font-size="24.08" fill="#0a0a0a" stroke="#0a0a0a" stroke-width="0.45" transform="matrix(0.9971 0 0 1 52.82 469.88)">2</text>
<text font-size="24.08" fill="#0a0a0a" stroke="#0a0a0a" stroke-width="0.45" transform="matrix(0.9773 0 0 1 52.11 511.27)">0</text>
<text font-size="24.08" fill="#0a0a0a" stroke="#0a0a0a" stroke-width="0.45" transform="matrix(1.0159 0 0 1 47.15 550.38)">-2</text>
<text font-size="25.80" fill="#0a0a0a" stroke="#0a0a0a" stroke-width="0.45" transform="matrix(0 -0.9531 1 0 18.97 554.09)">Elevation</text>
<text font-size="25.80" fill="#0a0a0a" stroke="#0a0a0a" stroke-width="0.45" transform="matrix(0 -0.9623 1 0 50.27 528.31)">(km)</text>
<text font-size="24.08" fill="#0a0a0a" stroke="#0a0a0a" stroke-width="0.45" transform="matrix(1.0207 0 0 1 50.97 619.38)">0</text>
<text font-size="24.08" fill="#0a0a0a" stroke="#0a0a0a" stroke-width="0.45" transform="matrix(0.9989 0 0 1 37.96 683.17)">50</text>
<text font-size="24.08" fill="#0a0a0a" stroke="#0a0a0a" stroke-width="0.45" transform="matrix(1.0227 0 0 1 23.65 749.67)">100</text>
<text font-size="25.80" fill="#0a0a0a" stroke="#0a0a0a" stroke-width="0.45" transform="matrix(0 -0.9749 1 0 21.38 754.84)">Depth (km)</text>
<text font-size="33.28" fill="#0a0a0a" stroke="#0a0a0a" stroke-width="0.50" transform="matrix(1.0630 0 0 1 824.75 639.75)">Moho</text>
<text font-size="33.28" fill="#0a0a0a" stroke="#0a0a0a" stroke-width="0.50" transform="matrix(0.9296 0 0 1 849.21 716.65)">LAB</text>
<text font-size="21.12" fill="#3c3c3c" stroke="#3c3c3c" stroke-width="0.15" transform="matrix(1.0750 0 0 1 69.89 804.32)">0</text>
<text font-size="21.12" fill="#3c3c3c" stroke="#3c3c3c" stroke-width="0.15" transform="matrix(1.0871 0 0 1 193.48 804.32)">100</text>
<text font-size="21.12" fill="#3c3c3c" stroke="#3c3c3c" stroke-width="0.15" transform="matrix(1.0692 0 0 1 330.95 804.32)">200</text>
<text font-size="21.12" fill="#3c3c3c" stroke="#3c3c3c" stroke-width="0.15" transform="matrix(1.0612 0 0 1 468.07 804.32)">300</text>
<text font-size="21.12" fill="#3c3c3c" stroke="#3c3c3c" stroke-width="0.15" transform="matrix(1.0513 0 0 1 605.26 804.32)">400</text>
<text font-size="21.12" fill="#3c3c3c" stroke="#3c3c3c" stroke-width="0.15" transform="matrix(1.0625 0 0 1 741.73 804.32)">500</text>
<text font-size="21.12" fill="#3c3c3c" stroke="#3c3c3c" stroke-width="0.15" transform="matrix(1.0699 0 0 1 878.32 804.32)">600</text>
<text font-size="25.22" fill="#0a0a0a" stroke="#0a0a0a" stroke-width="0.45" transform="matrix(0.9733 0 0 1 423.41 833.67)">Distance (km)</text>
</g>
<g id="panel-d">
<path d="M1039.2 493.4C1049.2 493.9 1059.3 494.3 1069.3 494.6C1081.0 495.0 1092.7 495.6 1104.4 495.6C1111.1 495.6 1117.8 494.9 1124.5 494.9C1139.5 494.9 1154.6 495.5 1169.6 495.9C1186.3 496.3 1203.0 496.9 1219.7 497.6C1236.4 498.3 1253.1 499.1 1269.8 499.9C1286.5 500.7 1303.3 501.3 1320.0 502.4C1326.7 502.9 1333.3 503.5 1340.0 504.3C1346.8 505.1 1353.5 506.5 1360.3 507.3C1370.4 508.5 1380.6 509.5 1390.7 510.4C1400.8 511.3 1411.0 512.3 1421.1 512.6C1427.9 512.8 1434.6 513.0 1441.4 513.0C1448.2 513.0 1454.9 512.4 1461.7 511.8C1471.8 511.0 1482.0 508.7 1492.1 507.3C1502.3 505.9 1512.4 504.7 1522.6 503.3C1529.3 502.3 1536.1 501.2 1542.8 500.2C1553.0 498.8 1563.1 497.3 1573.3 496.2C1579.3 495.5 1585.4 494.9 1591.4 494.4C1599.8 493.7 1608.1 492.8 1616.5 492.4C1629.0 491.8 1641.6 491.3 1654.1 491.1C1675.0 490.8 1695.9 490.9 1716.8 490.6C1726.8 490.4 1736.8 489.1 1746.8 489.1C1755.2 489.1 1763.5 489.1 1771.9 489.1C1782.8 489.1 1793.6 490.2 1804.5 490.6C1817.0 491.1 1829.6 491.9 1842.1 491.9C1855.9 491.9 1869.6 491.9 1883.4 491.9" stroke="#2f53a8" stroke-width="2.10"/>
<path d="M1037.2 648.0C1064.6 648.0 1092.0 647.4 1119.4 646.8C1136.1 646.4 1152.9 645.8 1169.6 645.0C1186.3 644.2 1203.0 643.1 1219.7 641.8C1236.4 640.5 1253.1 638.7 1269.8 637.2C1279.8 636.3 1289.9 635.5 1299.9 634.7C1304.5 634.3 1309.1 633.7 1313.7 633.7C1315.4 633.7 1317.0 634.8 1318.7 635.5C1320.8 636.4 1322.9 638.6 1325.0 639.2C1327.5 639.9 1330.0 640.5 1332.5 640.5C1335.8 640.5 1339.2 639.8 1342.5 639.2C1346.7 638.4 1350.8 636.4 1355.0 634.6C1359.0 632.9 1363.0 629.9 1367.0 628.6C1370.5 627.4 1374.1 626.6 1377.6 626.0C1383.4 625.0 1389.3 624.1 1395.1 623.7C1406.0 623.0 1416.8 622.8 1427.7 622.5C1441.9 622.1 1456.1 621.7 1470.3 621.7C1481.2 621.7 1492.0 622.1 1502.9 622.5C1511.3 622.8 1519.6 623.4 1528.0 624.2C1533.8 624.7 1539.7 625.5 1545.5 626.7C1549.7 627.5 1553.8 628.8 1558.0 630.5C1561.4 631.9 1564.7 635.1 1568.1 636.7C1571.4 638.3 1574.8 640.2 1578.1 640.5C1581.4 640.8 1584.8 641.0 1588.1 641.0C1591.4 641.0 1594.8 639.2 1598.1 638.0C1600.6 637.1 1603.2 634.7 1605.7 634.4C1607.8 634.1 1609.9 633.9 1612.0 633.9C1620.3 633.9 1628.5 635.9 1636.8 636.8C1651.0 638.4 1665.2 640.1 1679.4 641.4C1693.6 642.7 1707.8 644.1 1722.0 644.8C1741.0 645.6 1759.9 646.0 1778.9 646.5C1797.8 646.9 1816.8 647.2 1835.7 647.6C1852.6 647.9 1869.4 648.3 1886.3 648.6" stroke="#2f53a8" stroke-width="2.10"/>
<path d="M1037.2 722.5C1064.6 721.8 1092.0 721.0 1119.4 720.2C1144.5 719.4 1169.5 718.6 1194.6 717.7C1207.1 717.2 1219.7 717.0 1232.2 716.2C1240.6 715.7 1248.9 714.6 1257.3 713.2C1264.0 712.1 1270.6 710.3 1277.3 708.0C1283.2 706.0 1289.0 702.5 1294.9 699.4C1300.7 696.3 1306.6 693.3 1312.4 689.2C1317.4 685.7 1322.5 681.4 1327.5 676.4C1331.7 672.3 1335.8 666.4 1340.0 661.4C1343.3 657.4 1346.7 654.0 1350.0 649.4C1352.7 645.8 1355.3 640.0 1358.0 636.7C1360.4 633.9 1362.7 630.8 1365.1 629.7C1369.3 627.8 1373.4 627.0 1377.6 626.2C1383.4 625.1 1389.3 624.3 1395.1 623.9C1406.0 623.2 1416.8 623.0 1427.7 622.7C1441.9 622.3 1456.1 621.9 1470.3 621.9C1481.2 621.9 1492.0 622.3 1502.9 622.7C1511.3 623.0 1519.6 623.6 1528.0 624.4C1533.8 624.9 1539.7 625.7 1545.5 626.9C1549.7 627.7 1553.8 628.4 1558.0 630.7C1560.5 632.1 1563.1 639.0 1565.6 643.0C1568.9 648.2 1572.3 654.0 1575.6 658.0C1578.9 662.0 1582.3 664.8 1585.6 668.1C1589.8 672.3 1593.9 676.8 1598.1 680.4C1601.5 683.4 1605.0 685.6 1608.4 688.3C1613.1 692.1 1617.9 697.3 1622.6 700.0C1627.3 702.7 1632.1 704.6 1636.8 706.3C1643.4 708.6 1650.1 710.8 1656.7 712.2C1664.3 713.7 1671.8 714.7 1679.4 715.5C1693.6 717.0 1707.8 718.0 1722.0 718.7C1741.0 719.6 1759.9 720.0 1778.9 720.6C1797.8 721.2 1816.8 721.8 1835.7 722.3C1852.6 722.7 1869.4 723.1 1886.3 723.4" stroke="#2f53a8" stroke-width="2.10"/>
<path d="M1039.2 483.9C1057.6 483.7 1076.0 483.1 1094.4 482.4C1111.1 481.8 1127.8 480.5 1144.5 479.3C1161.2 478.1 1177.9 476.4 1194.6 474.8C1207.1 473.6 1219.7 472.1 1232.2 471.1C1243.1 470.2 1253.9 469.2 1264.8 468.8C1270.6 468.6 1276.5 468.3 1282.3 468.3C1288.2 468.3 1294.0 469.3 1299.9 470.1C1306.6 471.1 1313.3 473.1 1320.0 475.1C1326.7 477.1 1333.3 480.0 1340.0 482.6C1346.8 485.3 1353.5 488.5 1360.3 491.1C1367.1 493.7 1373.8 495.1 1380.6 498.2C1384.0 499.7 1387.3 502.1 1390.7 504.3C1394.8 507.0 1398.8 509.9 1402.9 513.4C1406.3 516.3 1409.6 519.7 1413.0 523.6C1416.4 527.6 1419.8 532.2 1423.2 537.8C1425.9 542.3 1428.6 548.9 1431.3 554.0C1434.7 560.4 1438.0 566.2 1441.4 572.2C1444.1 577.0 1446.8 581.9 1449.5 586.4C1450.8 588.5 1452.0 590.5 1453.3 592.5L1458.0 591.2C1458.4 589.1 1458.7 586.8 1459.1 585.7C1460.2 582.2 1461.4 580.7 1462.5 578.9C1464.3 576.0 1466.2 573.9 1468.0 571.7C1470.9 568.2 1473.8 565.7 1476.7 562.0C1479.1 558.9 1481.6 554.1 1484.0 550.9C1486.7 547.4 1489.4 544.6 1492.1 541.8C1496.8 536.9 1501.6 532.5 1506.3 528.6C1511.7 524.1 1517.2 520.3 1522.6 516.5C1529.3 511.8 1536.1 507.5 1542.8 503.3C1549.6 499.1 1556.3 494.4 1563.1 491.1C1569.9 487.8 1576.6 485.3 1583.4 482.6C1590.2 479.9 1596.9 477.1 1603.7 474.9C1606.3 474.1 1608.9 473.2 1611.5 472.6C1617.3 471.2 1623.2 469.8 1629.0 469.3C1637.4 468.6 1645.7 468.4 1654.1 468.1C1666.6 467.7 1679.2 467.3 1691.7 467.3C1704.2 467.3 1716.8 467.7 1729.3 468.1C1741.8 468.5 1754.4 469.6 1766.9 470.6C1779.4 471.6 1792.0 473.1 1804.5 474.3C1817.0 475.5 1829.6 476.8 1842.1 478.1C1850.4 478.9 1858.8 480.1 1867.1 480.6C1872.5 480.9 1878.0 481.2 1883.4 481.4" stroke="#50ba06" stroke-width="2.10"/>
<path d="M1037.2 648.0C1064.6 648.0 1092.0 647.4 1119.4 646.8C1136.1 646.4 1152.9 645.8 1169.6 645.0C1186.3 644.2 1203.0 643.1 1219.7 641.8C1236.4 640.5 1253.1 638.7 1269.8 637.2C1279.8 636.3 1289.9 635.5 1299.9 634.7C1304.5 634.3 1309.1 633.7 1313.7 633.7C1315.4 633.7 1317.0 634.8 1318.7 635.5C1320.8 636.4 1322.9 638.6 1325.0 639.2C1327.5 639.9 1330.0 640.5 1332.5 640.5C1335.8 640.5 1339.2 639.8 1342.5 639.2C1346.7 638.4 1350.8 636.4 1355.0 634.6C1359.0 632.9 1363.0 630.4 1367.0 628.6C1371.4 626.7 1375.7 624.8 1380.1 623.5C1385.9 621.7 1391.8 620.3 1397.6 619.2C1405.1 617.8 1412.7 616.6 1420.2 615.9C1428.6 615.1 1436.9 614.6 1445.3 614.2C1452.0 613.9 1458.6 613.4 1465.3 613.4C1473.7 613.4 1482.0 614.1 1490.4 614.7C1498.7 615.3 1507.1 616.2 1515.4 617.4C1522.1 618.4 1528.8 620.1 1535.5 621.7C1541.3 623.1 1547.2 624.7 1553.0 626.7C1557.2 628.1 1561.4 630.0 1565.6 631.7C1569.8 633.4 1573.9 635.6 1578.1 636.7C1581.0 637.5 1584.0 638.5 1586.9 638.5C1589.8 638.5 1592.7 637.8 1595.6 637.2C1599.0 636.5 1602.3 633.7 1605.7 633.3C1607.8 633.0 1609.9 632.8 1612.0 632.8C1620.3 632.8 1628.5 634.5 1636.8 635.3C1651.0 636.7 1665.2 638.3 1679.4 639.6C1693.6 640.9 1707.8 642.2 1722.0 643.0C1741.0 644.0 1759.9 644.7 1778.9 645.3C1797.8 645.9 1816.8 646.2 1835.7 646.7C1852.6 647.1 1869.4 647.6 1886.3 648.1" stroke="#50ba06" stroke-width="2.10"/>
<path d="M1037.2 722.5C1064.6 721.8 1092.0 721.0 1119.4 720.2C1144.5 719.4 1169.5 718.6 1194.6 717.7C1207.1 717.2 1219.7 717.0 1232.2 716.2C1240.6 715.7 1248.9 714.6 1257.3 713.2C1264.0 712.1 1270.6 710.3 1277.3 708.0C1283.2 706.0 1289.0 702.5 1294.9 699.4C1300.7 696.3 1306.6 693.3 1312.4 689.2C1317.4 685.7 1322.5 681.4 1327.5 676.4C1331.7 672.3 1335.8 666.4 1340.0 661.4C1343.3 657.4 1346.7 654.0 1350.0 649.4C1352.7 645.8 1355.3 639.9 1358.0 636.7C1360.4 633.9 1362.7 631.4 1365.1 630.0C1370.1 626.9 1375.1 625.3 1380.1 623.7C1385.9 621.9 1391.8 620.5 1397.6 619.4C1405.1 618.0 1412.7 616.8 1420.2 616.1C1428.6 615.3 1436.9 614.8 1445.3 614.4C1452.0 614.1 1458.6 613.6 1465.3 613.6C1473.7 613.6 1482.0 614.3 1490.4 614.9C1498.7 615.5 1507.1 616.4 1515.4 617.6C1522.1 618.6 1528.8 620.3 1535.5 621.9C1541.3 623.3 1547.2 624.8 1553.0 626.9C1554.7 627.5 1556.3 628.2 1558.0 629.2C1560.5 630.7 1563.1 633.1 1565.6 635.5C1569.8 639.5 1573.9 645.1 1578.1 650.1C1582.3 655.1 1586.4 660.7 1590.6 665.5C1594.8 670.3 1599.0 674.7 1603.2 678.9C1606.1 681.9 1609.1 684.7 1612.0 687.4C1615.5 690.6 1619.1 694.4 1622.6 696.6C1625.4 698.4 1628.3 700.0 1631.1 701.0C1634.9 702.4 1638.7 702.9 1642.5 704.1C1647.2 705.6 1652.0 708.5 1656.7 709.8C1664.3 711.9 1671.8 713.6 1679.4 714.6C1693.6 716.4 1707.8 717.6 1722.0 718.3C1741.0 719.3 1759.9 719.7 1778.9 720.3C1797.8 720.9 1816.8 721.5 1835.7 722.0C1852.6 722.4 1869.4 722.8 1886.3 723.1" stroke="#50ba06" stroke-width="2.10"/>
<path d="M1039.20 461.85L1039.20 542.95" stroke="#0a0a0a" stroke-width="2.10" />
<path d="M1039.20 462.90L1045.60 462.90" stroke="#0a0a0a" stroke-width="2.10" />
<path d="M1039.20 483.40L1045.60 483.40" stroke="#0a0a0a" stroke-width="2.10" />
<path d="M1039.20 503.20L1045.60 503.20" stroke="#0a0a0a" stroke-width="2.10" />
<path d="M1039.20 523.50L1045.60 523.50" stroke="#0a0a0a" stroke-width="2.10" />
<path d="M1039.20 541.90L1045.60 541.90" stroke="#0a0a0a" stroke-width="2.10" />
<path d="M1037.20 503.20L1046.80 503.20" stroke="#0a0a0a" stroke-width="1.90" />
<path d="M1048.60 503.20L1883.40 503.20" stroke="#0a0a0a" stroke-width="1.95" stroke-dasharray="2.60 2.36"/>
<rect x="1040.10" y="614.20" width="847.10" height="165.00" fill="none" stroke="#0a0a0a" stroke-width="2.30"/>
<path d="M1033.50 615.60L1040.10 615.60" stroke="#0a0a0a" stroke-width="2.10" />
<path d="M1033.50 673.60L1040.10 673.60" stroke="#0a0a0a" stroke-width="2.10" />
<path d="M1033.50 737.60L1040.10 737.60" stroke="#0a0a0a" stroke-width="2.10" />
<text font-size="30.93" fill="#0a0a0a" stroke="#0a0a0a" stroke-width="0.65" transform="matrix(1.0445 0 0 1 0 423.28)"><tspan x="925.57">d</tspan><tspan x="943.80" dy="-2.10" font-size="30.30">)</tspan></text>
<text font-size="36.99" fill="#0a0a0a" stroke="#0a0a0a" stroke-width="0.55" transform="matrix(1.0397 0 0 1 0 458.73)"><tspan x="1304.90">time </tspan><tspan x="1383.51">~26 </tspan><tspan x="1453.39">Myr</tspan></text>
<text font-size="24.08" fill="#0a0a0a" stroke="#0a0a0a" stroke-width="0.45" transform="matrix(0.9789 0 0 1 1017.65 469.88)">2</text>
<text font-size="24.08" fill="#0a0a0a" stroke="#0a0a0a" stroke-width="0.45" transform="matrix(0.9860 0 0 1 1016.80 511.27)">0</text>
<text font-size="24.08" fill="#0a0a0a" stroke="#0a0a0a" stroke-width="0.45" transform="matrix(1.0159 0 0 1 1012.25 550.38)">-2</text>
<text font-size="25.80" fill="#0a0a0a" stroke="#0a0a0a" stroke-width="0.45" transform="matrix(0 -0.9531 1 0 978.27 554.09)">Elevation</text>
<text font-size="25.80" fill="#0a0a0a" stroke="#0a0a0a" stroke-width="0.45" transform="matrix(0 -0.9623 1 0 1009.48 528.31)">(km)</text>
<text font-size="24.08" fill="#0a0a0a" stroke="#0a0a0a" stroke-width="0.45" transform="matrix(1.0034 0 0 1 1016.18 622.88)">0</text>
<text font-size="24.08" fill="#0a0a0a" stroke="#0a0a0a" stroke-width="0.45" transform="matrix(1.0029 0 0 1 1002.96 682.07)">50</text>
<text font-size="24.08" fill="#0a0a0a" stroke="#0a0a0a" stroke-width="0.45" transform="matrix(0.9746 0 0 1 988.84 746.98)">100</text>
<text font-size="25.80" fill="#0a0a0a" stroke="#0a0a0a" stroke-width="0.45" transform="matrix(0 -0.9765 1 0 980.57 759.74)">Depth (km)</text>
<text font-size="33.28" fill="#0a0a0a" stroke="#0a0a0a" stroke-width="0.50" transform="matrix(1.0604 0 0 1 1786.06 641.25)">Moho</text>
<text font-size="33.28" fill="#0a0a0a" stroke="#0a0a0a" stroke-width="0.50" transform="matrix(0.9296 0 0 1 1810.71 713.75)">LAB</text>
<text font-size="21.12" fill="#3c3c3c" stroke="#3c3c3c" stroke-width="0.15" transform="matrix(1.0750 0 0 1 1035.39 806.12)">0</text>
<text font-size="21.12" fill="#3c3c3c" stroke="#3c3c3c" stroke-width="0.15" transform="matrix(1.0871 0 0 1 1150.08 806.12)">100</text>
<text font-size="21.12" fill="#3c3c3c" stroke="#3c3c3c" stroke-width="0.15" transform="matrix(1.0692 0 0 1 1278.65 806.12)">200</text>
<text font-size="21.12" fill="#3c3c3c" stroke="#3c3c3c" stroke-width="0.15" transform="matrix(1.0612 0 0 1 1406.87 806.12)">300</text>
<text font-size="21.12" fill="#3c3c3c" stroke="#3c3c3c" stroke-width="0.15" transform="matrix(1.0513 0 0 1 1535.16 806.12)">400</text>
<text font-size="21.12" fill="#3c3c3c" stroke="#3c3c3c" stroke-width="0.15" transform="matrix(1.0625 0 0 1 1662.73 806.12)">500</text>
<text font-size="21.12" fill="#3c3c3c" stroke="#3c3c3c" stroke-width="0.15" transform="matrix(1.0699 0 0 1 1790.42 806.12)">600</text>
<text font-size="25.22" fill="#0a0a0a" stroke="#0a0a0a" stroke-width="0.45" transform="matrix(0.9719 0 0 1 1388.12 833.07)">Distance (km)</text>
</g>
</svg>
</body></html>
